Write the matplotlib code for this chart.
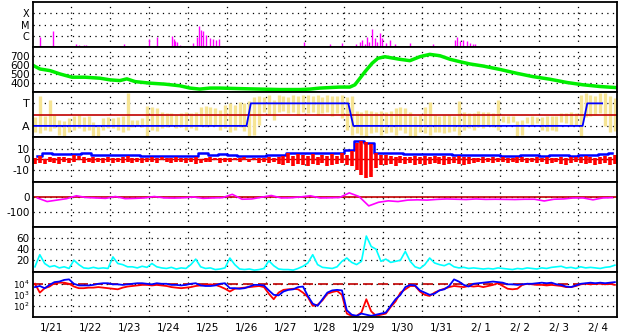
import numpy as np
import matplotlib
matplotlib.use("Agg")
import matplotlib.pyplot as plt
from matplotlib.ticker import NullLocator

# x axis: days since 1/21 00:00
day_labels = ["1/21", "1/22", "1/23", "1/24", "1/25", "1/26", "1/27", "1/28",
              "1/29", "1/30", "1/31", "2/ 1", "2/ 2", "2/ 3", "2/ 4"]

# 3-hour and 6-hour sample times
t3h = np.arange(120) / 8 + 1 / 16
t6h = np.arange(60) / 4 + 1 / 8

# X-ray flare peaks (day, log10 W/m2)
flare_day = [0.19, 0.53, 1.11, 1.19, 1.32, 1.37, 2.35, 2.99, 3.20, 3.57, 3.62, 3.66,
             3.70, 3.78, 4.11, 4.21, 4.28, 4.33, 4.37, 4.45, 4.55, 4.63, 4.71, 4.78,
             6.96, 7.63, 7.94, 8.29, 8.40, 8.45, 8.52, 8.58, 8.64, 8.71, 8.78, 8.84,
             8.91, 8.97, 9.06, 9.17, 9.29, 9.68, 10.27, 10.83, 10.88, 10.96, 11.04,
             11.14, 11.23, 11.30, 11.35, 11.99, 13.14]
flare_log = [-6.09, -5.58, -6.74, -6.85, -6.85, -6.8, -6.74, -6.29, -6.09, -6.0, -6.25, -6.45,
             -6.55, -6.85, -6.65, -6.09, -5.13, -5.45, -5.6, -5.95, -6.2, -6.3, -6.35, -6.25,
             -6.55, -6.74, -6.62, -6.74, -6.55, -6.39, -6.7, -6.09, -6.55, -5.42, -6.2, -6.55,
             -5.75, -6.2, -6.65, -6.39, -6.74, -6.62, -6.74, -6.39, -6.09, -6.45, -6.39,
             -6.5, -6.62, -6.7, -6.74, -6.9, -6.9]

# solar wind speed (day, km/s)
speed_day = [0.01, 0.19, 0.45, 0.71, 1.01, 1.35, 1.73, 1.99, 2.24, 2.42, 2.63, 3.01, 3.40,
             3.78, 4.04, 4.29, 4.55, 4.81, 5.32, 5.83, 6.35, 6.86, 7.12, 7.37, 7.88, 8.14,
             8.27, 8.40, 8.53, 8.71, 8.86, 9.04, 9.42, 9.68, 9.94, 10.19, 10.45, 10.71,
             10.96, 11.22, 11.55, 11.99, 12.42, 12.83, 13.27, 13.71, 14.12, 14.56, 14.95]
speed_kms = [595, 555, 537, 500, 465, 465, 454, 436, 428, 447, 417, 400, 389,
             371, 346, 335, 346, 346, 340, 335, 330, 330, 335, 346, 357, 357,
             382, 454, 526, 617, 672, 689, 661, 646, 690, 715, 700, 661,
             635, 610, 588, 550, 508, 472, 443, 407, 382, 363, 352]

# IMF angle spread (deg) per 3 h, and sector (A=90, T=270)
phi_lo = [40, 30, 60, 50, 70, 20, 0, 40, 60, 70, 50, 60, 10, 0, 60, 70,
          70, 60, 40, 60, 80, 90, 80, 0, 60, 50, 70, 80, 90, 70, 80, 60,
          70, 60, 90, 80, 100, 90, 60, 70, 40, 60, 80, 50, 0, 20, 100, 200,
          180, 140, 200, 210, 190, 200, 180, 200, 190, 200, 180, 190, 200, 170, 190, 150,
          60, 20, 30, 20, 10, 30, 40, 20, 30, 40, 20, 60, 30, 0, 0, 40,
          30, 20, 40, 40, 30, 40, 50, 20, 60, 70, 60, 80, 70, 90, 80, 60,
          120, 110, 120, 0, 20, 110, 100, 110, 60, 50, 60, 50, 120, 110, 100, 100,
          0, 160, 170, 180, 190, 90, 40, 50]
phi_hi = [160, 330, 170, 300, 175, 140, 130, 150, 170, 175, 160, 170, 120, 90, 150, 160,
          150, 160, 170, 350, 140, 140, 150, 250, 240, 230, 200, 190, 190, 180, 190, 200,
          190, 200, 240, 250, 240, 230, 220, 260, 270, 260, 280, 270, 290, 320, 330, 320,
          340, 300, 340, 330, 320, 340, 330, 340, 340, 330, 340, 320, 340, 330, 330, 340,
          320, 330, 210, 200, 220, 210, 200, 210, 200, 210, 230, 240, 230, 200, 170, 180,
          240, 280, 180, 170, 180, 175, 170, 290, 200, 190, 190, 210, 200, 200, 190, 300,
          170, 170, 170, 130, 140, 160, 170, 160, 160, 170, 170, 170, 190, 190, 200, 190,
          340, 350, 340, 330, 350, 350, 330, 310]
sector_day = [0, 5.49, 5.6, 8.10, 8.23, 14.11, 14.23, 14.61]
sector_deg = [90, 90, 270, 270, 90, 90, 270, 270]

# Bt (6 h) and Bz spread (3 h), nT
bt_nt = [3, 5.5, 5, 5, 5, 5.5, 4, 4, 4.5, 4.5, 4, 3.5, 3.5, 3.5, 3.5, 3.5,
         3.5, 6, 4.5, 5, 4, 3.5, 3.5, 3.5, 4, 4, 5.5, 6, 5.5, 6, 6, 5.5,
         9, 17, 15, 6, 5.5, 5.5, 5, 5, 5, 5, 5, 4.5, 4, 4, 4, 4.5,
         3.5, 3.5, 4, 4, 3.5, 4, 4, 3.5, 4, 4.5, 5, 6]
bz_lo = [-4, -3, -4, -2, -3, -4, -2, -3, -2, -1, -3, -2, -3, -2, -3, -2,
         -3, -2, -3, -2, -3, -2, -3, -2, -2, -3, -1, -2, -3, -2, -2, -3,
         -2, -4, -3, -2, -2, -1, -3, -2, -2, -1, -2, -1, -2, -1, -3, -2,
         -3, -2, -4, -5, -3, -6, -4, -5, -6, -4, -5, -3, -6, -5, -4, -3,
         -5, -6, -10, -14, -17, -16, -8, -5, -5, -4, -6, -3, -4, -3, -5, -4,
         -5, -4, -3, -4, -5, -4, -3, -4, -5, -4, -3, -2, -3, -2, -3, -2,
         -2, -3, -2, -3, -2, -3, -2, -3, -2, -4, -3, -2, -4, -5, -3, -2,
         -3, -4, -3, -5, -4, -3, -5, -4]
bz_hi = [1, 3, 0, 2, 1, 2, 2, 1, 4, 3, 2, 1, 2, 1, 1, 2,
         1, 1, 2, 3, 1, 1, 1, 1, 2, 1, 2, 1, 1, 2, 1, 1,
         1, 2, 0, 1, 2, 1, 1, 1, 1, 1, 1, 2, 0, 1, 1, 1,
         2, 1, 2, 3, 6, 3, 5, 4, 3, 5, 2, 4, 3, 5, 3, 6,
         4, 8, 15, 17, 16, 14, 6, 4, 4, 3, 2, 3, 2, 2, 3, 2,
         3, 2, 3, 2, 3, 2, 2, 3, 2, 2, 1, 1, 2, 1, 2, 1,
         2, 1, 1, 2, 2, 1, 1, 2, 1, 2, 1, 1, 2, 1, 2, 2,
         2, 3, 2, 1, 2, 3, 2, 4]

# Dst (6 h), nT
dst_nt = [-5, -30, -20, -10, 10, -2, -5, -8, 5, -10, -8, -5, 5, -5, -6, -4,
          2, -8, -5, -3, 20, -14, -12, 0, 12, -5, -4, 2, 10, -5, -4, -2,
          30, 5, -60, -35, -25, -30, -20, -18, -20, -15, -12, -14, -16, -12, -15, -14,
          -15, -16, -14, -14, -26, -14, -12, -5, -5, -18, -5, -3]

# density (3 h), p/cc
dens = [8, 30, 14, 8, 10, 6, 8, 5, 20, 12, 6, 5, 7, 5, 6, 5,
        26, 14, 12, 8, 8, 6, 9, 7, 14, 8, 6, 5, 7, 4, 6, 5,
        12, 22, 8, 5, 6, 3, 4, 6, 24, 12, 4, 3, 4, 2, 3, 5,
        19, 10, 4, 3, 3, 2, 5, 9, 15, 30, 12, 7, 6, 5, 8, 18,
        24, 16, 12, 18, 64, 45, 40, 18, 22, 16, 18, 20, 36, 18, 8, 5,
        12, 24, 15, 12, 10, 14, 8, 6, 7, 5, 6, 5, 4, 5, 4, 6,
        5, 4, 3, 5, 4, 6, 5, 4, 6, 5, 7, 8, 9, 6, 7, 5,
        8, 6, 7, 6, 5, 7, 8, 11]

# electron flux (blue) and proton-ish flux (red), log10, 3 h
flux_blue = [3.7, 3.8, 3.6, 3.9, 4.15, 4.2, 4.35, 4.4, 4.0, 3.85, 3.85, 3.85, 3.9, 4.0, 4.05, 4.05,
             3.95, 3.95, 3.9, 3.95, 4.0, 4.05, 4.05, 4.0, 3.95, 4.05, 4.0, 4.0, 3.9, 3.9, 3.85, 3.9,
             4.0, 4.05, 3.85, 3.8, 3.8, 3.85, 4.0, 4.05, 3.6, 3.6, 3.55, 3.6, 3.75, 3.9, 3.9, 3.85,
             3.4, 3.0, 2.95, 3.3, 3.45, 3.5, 3.7, 3.75, 2.9, 2.2, 2.0, 2.6, 3.2, 3.4, 3.45, 3.4,
             1.6, 1.2, 1.1, 1.3, 1.2, 1.1, 1.2, 1.3, 1.4, 2.0, 2.6, 3.0, 3.7, 3.9, 3.85, 3.4,
             3.2, 3.0, 3.1, 3.4, 3.5, 3.8, 4.4, 4.2, 3.9, 3.75, 4.0, 4.05, 4.1, 4.15, 4.2, 4.15,
             4.1, 3.95, 3.95, 3.9, 3.95, 4.0, 4.0, 4.05, 4.1, 4.05, 4.1, 3.95, 3.9, 3.75, 3.7, 3.85,
             4.0, 4.05, 4.1, 4.05, 4.1, 4.05, 4.1, 4.15]
flux_red = [4.0, 3.2, 3.6, 3.75, 4.05, 4.1, 4.1, 4.0, 3.75, 3.6, 3.6, 3.65, 3.65, 3.7, 3.65, 3.6,
            3.55, 3.5, 3.65, 3.75, 3.8, 3.85, 3.9, 3.9, 3.85, 3.9, 3.85, 3.8, 3.7, 3.65, 3.6, 3.65,
            3.7, 3.8, 3.85, 3.9, 3.95, 3.9, 3.75, 3.55, 3.3, 3.55, 3.6, 3.65, 3.7, 3.75, 3.8, 3.7,
            3.1, 2.6, 3.2, 3.45, 3.5, 3.55, 3.5, 3.2, 2.8, 2.0, 2.1, 2.5, 3.1, 3.25, 3.35, 3.0,
            1.3, 1.1, 1.1, 1.4, 2.6, 1.5, 1.1, 1.2, 1.3, 1.9, 2.4, 3.2, 3.5, 3.8, 3.8, 3.3,
            3.0, 2.9, 3.2, 3.4, 3.55, 3.7, 3.8, 3.75, 3.7, 3.8, 3.75, 3.8, 3.7, 3.8, 3.9, 4.05,
            3.8, 3.55, 3.5, 3.55, 3.9, 4.0, 3.95, 3.9, 3.9, 3.85, 3.9, 3.85, 3.8, 3.7, 3.7, 3.8,
            3.95, 4.0, 3.95, 4.0, 4.0, 3.95, 4.0, 3.9]

GREEN = "#00ee00"
MAGENTA = "#ff00ff"
YELLOW = "#f6e493"
DARKRED = "#c00000"
CYAN = "#00ffff"

fig = plt.figure(figsize=(6.28, 3.34), dpi=100)
left, width = 32.5 / 628, 584.8 / 628
ph = 45.05
axes = []
for k in range(7):
    top = 2 + ph * k
    ax = fig.add_axes([left, 1 - (top + ph) / 334, width, ph / 334])
    axes.append(ax)


def setup(ax, ticks, labels, lim, log=False, size=7.5):
    if log:
        ax.set_yscale("log")
    ax.set_xlim(0, 15)
    ax.set_ylim(*lim)
    ax.set_yticks(ticks)
    ax.set_yticklabels(labels)
    ax.yaxis.set_minor_locator(NullLocator())
    ax.set_xticks(np.arange(1, 15))
    ax.set_xticklabels([])
    ax.tick_params(length=0, labelsize=size, pad=2)
    ax.grid(True, color="black", linestyle=(0, (1, 3.5)), linewidth=0.9)
    ax.set_axisbelow(True)
    for s in ax.spines.values():
        s.set_linewidth(1.3)


# 1: X-ray
ax = axes[0]
setup(ax, [1e-4, 1e-5, 1e-6], ["X", "M", "C"], (1e-7, 1e-3), log=True, size=7)
ax.vlines(flare_day, 1e-8, 10.0 ** np.array(flare_log), color=MAGENTA, lw=1.0)

# 2: speed
ax = axes[1]
setup(ax, [700, 600, 500, 400], ["700", "600", "500", "400"], (302, 795))
ax.plot(speed_day, speed_kms, color=GREEN, lw=2.5)

# 3: IMF sector
ax = axes[2]
setup(ax, [270, 90], ["T", "A"], (0, 360), size=8)
ax.vlines(t3h, phi_lo, phi_hi, color=YELLOW, lw=2.4)
ax.axhline(180, color=DARKRED, lw=1.2)
ax.plot(sector_day, sector_deg, color="#0000ff", lw=1.3)

# 4: Bt / Bz
ax = axes[3]
setup(ax, [10, 0, -10], ["10", "0", "-10"], (-21, 20.5))
ax.axhline(0, color=DARKRED, lw=1)
ax.plot(t6h, bt_nt, color="#0000ff", lw=1.8, drawstyle="steps-mid")
ax.vlines(t3h, bz_lo, bz_hi, color="#ff0000", lw=2.6)

# 5: Dst
ax = axes[4]
setup(ax, [0, -100], ["0", "-100"], (-208, 104))
ax.axhline(0, color=DARKRED, lw=1.2)
ax.plot(t6h, dst_nt, color=MAGENTA, lw=1.2)

# 6: density
ax = axes[5]
setup(ax, [60, 40, 20], ["60", "40", "20"], (-2, 80))
ax.plot(t3h, dens, color=CYAN, lw=1.2)

# 7: particle flux
ax = axes[6]
setup(ax, [1e4, 1e3, 1e2], [r"$10^4$", r"$10^3$", r"$10^2$"], (10 ** 0.96, 10 ** 5.04),
      log=True, size=6.3)
ax.axhline(1e4, color=DARKRED, lw=1.2, linestyle=(0, (6, 3)))
ax.plot(t3h, 10.0 ** np.array(flux_red), color="#ff0000", lw=1.3)
ax.plot(t3h, 10.0 ** np.array(flux_blue), color="#0000ff", lw=1.3)
ax.set_xticks(np.arange(15) + 0.5, minor=True)
ax.set_xticklabels(day_labels, minor=True)
ax.tick_params(which="minor", length=0, labelsize=7.5, pad=4)
ax.grid(False, which="minor")

fig.savefig("out.png", dpi=100)
